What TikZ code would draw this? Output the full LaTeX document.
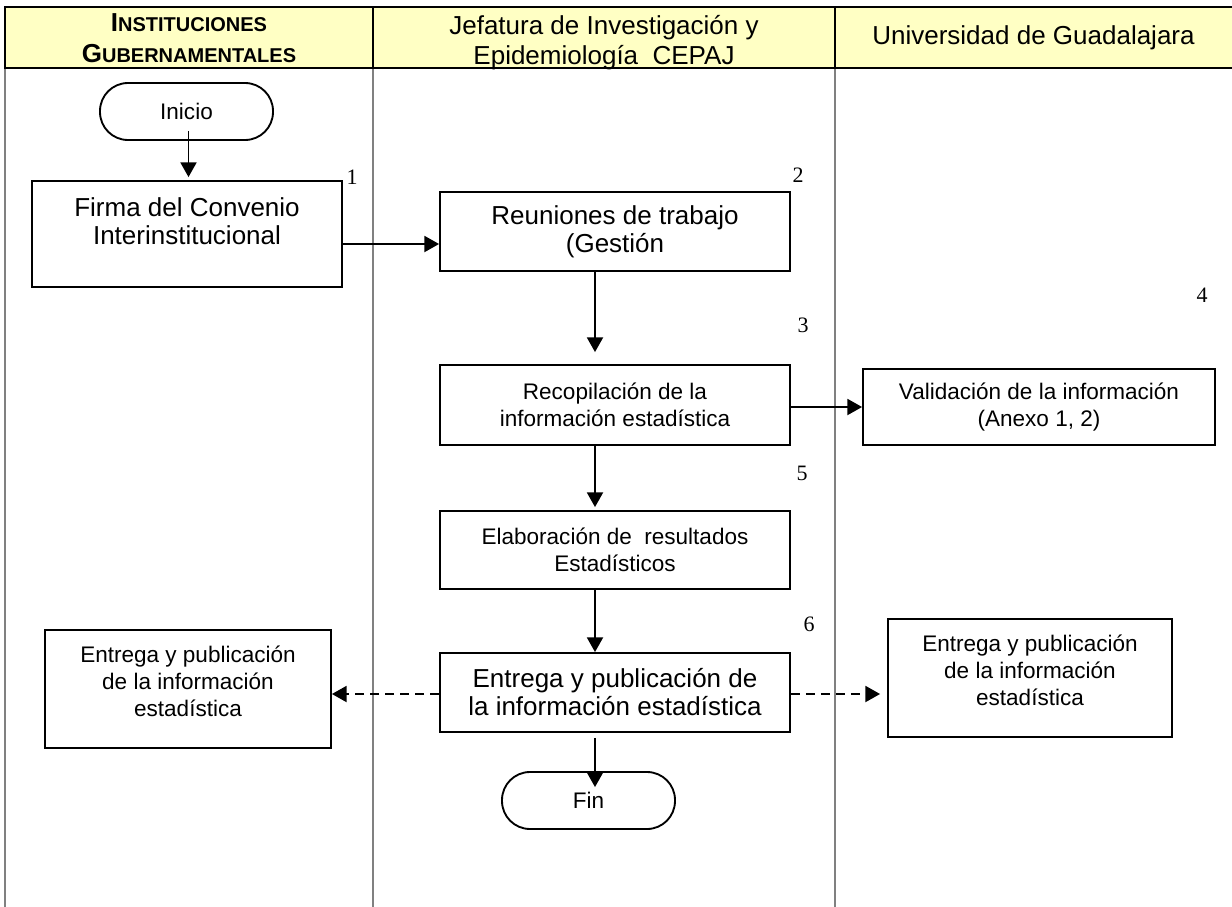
\documentclass[tikz,border=0pt]{standalone}
\usepackage{fontspec}
\setmainfont{Liberation Sans}
\newfontfamily\numfont{Liberation Serif}
\usetikzlibrary{arrows.meta,calc}
\definecolor{hdrfill}{HTML}{FFFFC4}
\definecolor{lanegray}{HTML}{808080}
\begin{document}
\begin{tikzpicture}[x=0.75pt,y=-0.75pt,
  big/.style={font=\fontsize{19.5}{21}\selectfont},
  small/.style={font=\fontsize{16.9}{20.25}\selectfont},
  box/.style={draw=black, line width=1.4pt, rectangle, inner sep=0pt, align=center},
  term/.style={box, rounded corners=21pt},
  txt/.style={align=center, inner sep=0pt},
  arr/.style={line width=1.4pt, -{Triangle[length=11pt,width=12pt]}},
  dasharr/.style={arr, dash pattern=on 6.75pt off 4.5pt},
  num/.style={font=\numfont\fontsize{16.5}{16.5}\selectfont, inner sep=0pt},
  lane/.style={draw=lanegray, line width=1.5pt},
  hdr/.style={draw=black, line width=1.6pt}]

\useasboundingbox (0,0) rectangle (1232,907);

% header
\fill[hdrfill] (5,7) rectangle (1232,68);
\draw[lane] (5,68) -- (5,907);
\draw[lane] (373,68) -- (373,907);
\draw[lane] (835,68) -- (835,907);
\draw[hdr] (1232,7) -- (5,7) -- (5,68) -- (1232,68);
\draw[hdr] (373,7) -- (373,68);
\draw[hdr] (835,7) -- (835,68);

\node[txt, font=\bfseries\fontsize{19.5}{23.25}\selectfont] (h1) at (189,38.5)
  {I{\fontsize{15}{15}\selectfont NSTITUCIONES}\\G{\fontsize{15}{15}\selectfont UBERNAMENTALES}};
\node[txt, font=\fontsize{19.5}{22.5}\selectfont] (h2) at (604,43)
  {Jefatura de Investigación y\\Epidemiología\ \ CEPAJ};
\node[txt, font=\fontsize{19.5}{22.5}\selectfont] (h3) at (1033.5,37.5)
  {Universidad de Guadalajara};

% nodes
\node[term, small, minimum width=129.75pt, minimum height=42.75pt] (inicio) at (186.5,111.5) {Inicio};
\node[box, minimum width=232.5pt, minimum height=79.5pt] (firma) at (187,234) {};
\node[txt, big] (firmaT) at (187,221.5) {Firma del Convenio\\Interinstitucional};

\node[box, big, minimum width=262.5pt, minimum height=59.25pt] (reun) at (615,231.5) {Reuniones de trabajo\\(Gestión};
\node[box, small, minimum width=262.5pt, minimum height=60pt] (recop) at (615,405) {Recopilación de la\\información estadística};
\node[box, small, minimum width=264pt, minimum height=57pt] (valid) at (1039,407) {Validación de la información\\(Anexo 1, 2)};
\node[box, small, minimum width=262.5pt, minimum height=58.5pt] (elab) at (615,550) {Elaboración de\ \ resultados\\Estadísticos};
\node[box, big, minimum width=262.5pt, minimum height=59.25pt] (entrega) at (615,692.5) {Entrega y publicación de\\la información estadística};

\node[box, minimum width=214.5pt, minimum height=88.5pt] (left) at (188,689) {};
\node[txt, small] (leftT) at (188,681.5) {Entrega y publicación\\de la información\\estadística};
\node[box, minimum width=213pt, minimum height=88.5pt] (right) at (1030,678) {};
\node[txt, small] (rightT) at (1030,670.5) {Entrega y publicación\\de la información\\estadística};

\node[term, small, minimum width=129.75pt, minimum height=42.75pt] (fin) at (588.5,800.5) {Fin};

% numbers
\node[num] (n1) at (352,177) {1};
\node[num] (n2) at (798,175) {2};
\node[num] (n3) at (803,325) {3};
\node[num] (n4) at (1202,295) {4};
\node[num] (n5) at (802,473) {5};
\node[num] (n6) at (809,624) {6};

% connectors
\draw[arr] ($(inicio.south)+(2,-10)$) -- ($(inicio.south |- firma.north)+(2,-3)$);
\draw[arr] ($(firma.east)+(0,10)$) -- ($(firma.east -| reun.west)+(0,10)$);
\draw[arr] ($(reun.south)+(-20,0)$) -- ($(reun.south |- recop.north)+(-20,-12)$);
\draw[arr] ($(recop.south)+(-20,0)$) -- ($(recop.south |- elab.north)+(-20,-3)$);
\draw[arr] ($(elab.south)+(-20,0)$) -- ($(elab.south |- entrega.north)+(-20,0)$);
\draw[arr] ($(entrega.south)+(-20,5)$) -- ($(entrega.south |- fin.north)+(-20,16)$);
\draw[arr] ($(recop.east)+(0,2)$) -- ($(recop.east -| valid.west)+(0,2)$);
\draw[dasharr] ($(entrega.west)+(0,1.5)$) -- ($(entrega.west -| left.east)+(0,1.5)$);
\draw[dasharr] ($(entrega.east)+(0,1.5)$) -- ($(entrega.east -| right.west)+(-7,1.5)$);
\end{tikzpicture}
\end{document}
